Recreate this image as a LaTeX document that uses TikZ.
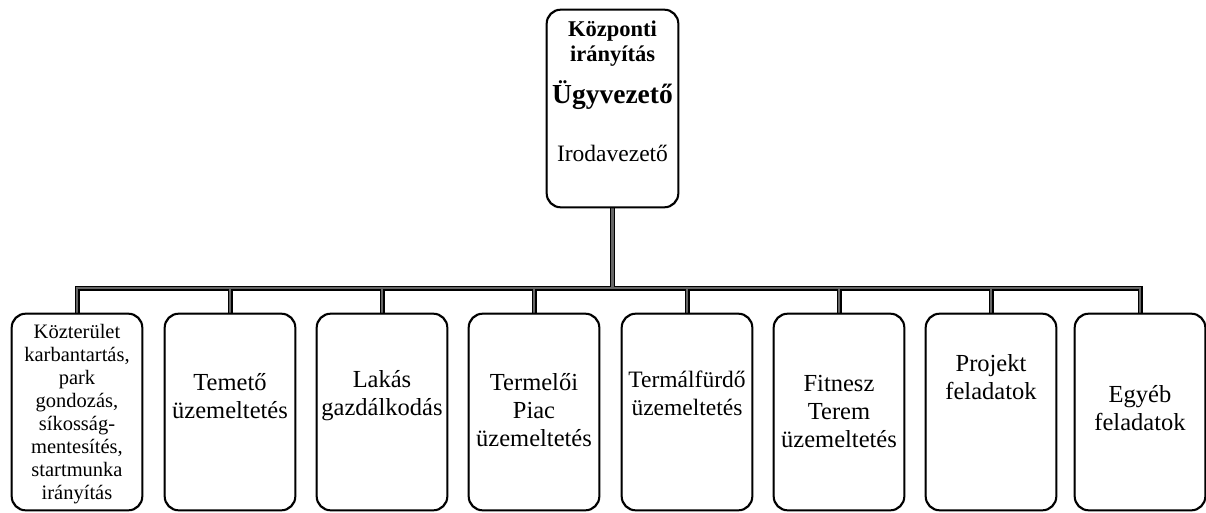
\documentclass[tikz,border=0pt]{standalone}
\usepackage{fontspec}
\setmainfont{Liberation Serif}
\begin{document}
\begin{tikzpicture}[x=1pt,y=-1pt,
  box/.style={draw, line width=1.3pt, rounded corners=14pt, minimum width=130pt, minimum height=196pt, inner sep=0pt, fill=white},
  topbox/.style={box, minimum width=131pt, minimum height=197pt},
  lbl/.style={align=center, inner sep=0pt, font=\fontsize{24.5}{28}\selectfont},
  smalllbl/.style={align=center, inner sep=0pt, font=\fontsize{20.5}{23}\selectfont},
  toplbl/.style={inner sep=0pt, anchor=base, font=\bfseries\fontsize{22.5}{28}\selectfont},
  conn/.style={line width=2.6pt, black!60, preaction={draw, black, line width=5pt}}]
\useasboundingbox (0,0) rectangle (1206,513);
\coordinate (bar) at (0,288);
% top box
\node[topbox] (top) at (612.5,108.5) {};
% lower boxes
\node[box] (b1) at (77,412) {};
\node[box] (b2) at (230,412) {};
\node[box] (b3) at (382,412) {};
\node[box] (b4) at (534,412) {};
\node[box] (b5) at (687,412) {};
\node[box] (b6) at (839,412) {};
\node[box] (b7) at (991,412) {};
\node[box] (b8) at (1140,412) {};
% connectors
\draw[conn] (top.south) -- (top.south |- bar)
  (b1.north) -- (b1.north |- bar) -- (b8.north |- bar) -- (b8.north)
  (b2.north |- bar) -- (b2.north)
  (b3.north |- bar) -- (b3.north)
  (b4.north |- bar) -- (b4.north)
  (b5.north |- bar) -- (b5.north)
  (b6.north |- bar) -- (b6.north)
  (b7.north |- bar) -- (b7.north);
% redraw box outlines over connector ends
\foreach \n in {top,b1,b2,b3,b4,b5,b6,b7,b8} {\draw[line width=1.3pt, rounded corners=14pt] (\n.north west) rectangle (\n.south east);}
% top texts
\node[toplbl] (t1) at (612.5,37) {Központi};
\node[toplbl] (t2) at (612.5,62) {irányítás};
\node[toplbl, font=\bfseries\fontsize{27.5}{30}\selectfont] (t3) at (612.5,104) {Ügyvezető};
\node[toplbl, font=\fontsize{23.5}{28}\selectfont] (t4) at (612.5,161) {Irodavezető};
% lower texts
\node[smalllbl] (l1) at (77,414) {Közterület\\karbantartás,\\park\\gondozás,\\síkosság-\\mentesítés,\\startmunka\\irányítás};
\node[lbl] (l2) at (230,396) {Temető\\üzemeltetés};
\node[lbl] (l3) at (382,396) {Lakás\\gazdálkodás};
\node[lbl] (l4) at (534,410) {Termelői\\Piac\\üzemeltetés};
\node[lbl, font=\fontsize{23.5}{28}\selectfont] (l5) at (687,393) {Termálfürdő\\üzemeltetés};
\node[lbl] (l6) at (839,412) {Fitnesz\\Terem\\üzemeltetés};
\node[lbl] (l7) at (991,377) {Projekt\\feladatok};
\node[lbl] (l8) at (1140,408) {Egyéb\\feladatok};
\end{tikzpicture}
\end{document}
